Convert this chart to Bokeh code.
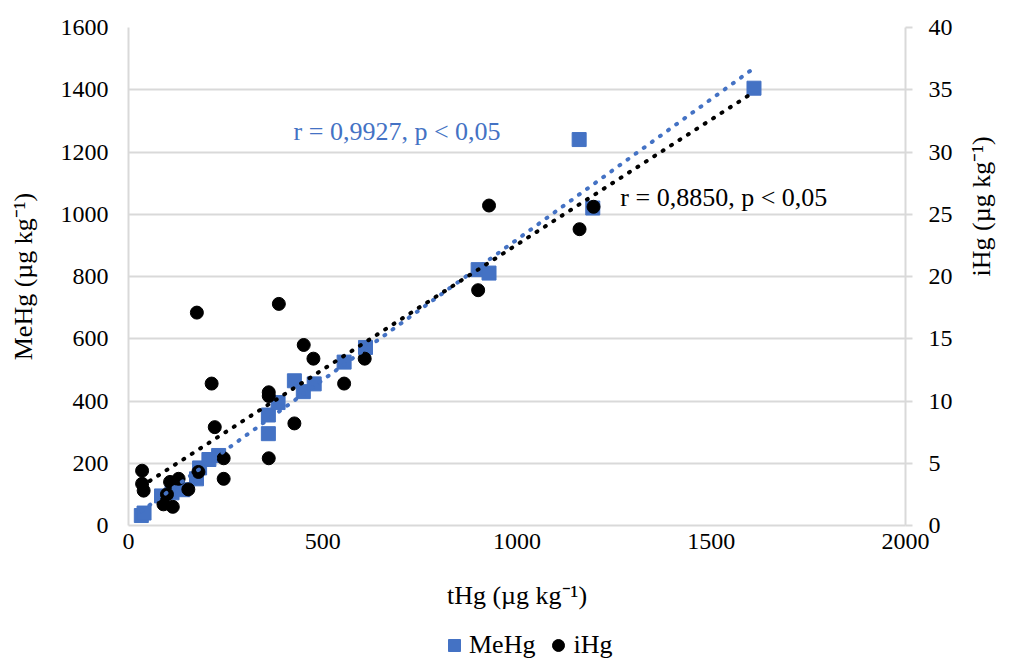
import math
from bokeh.plotting import figure
from bokeh.layouts import column
from bokeh.models import Range1d, LinearAxis, Legend, LegendItem, Label, FixedTicker
from bokeh.embed import file_html
from bokeh.resources import INLINE
import numpy as np

# MeHg series (left axis)
thg_me = [33, 40, 85, 112, 140, 175, 183, 207, 232, 360, 360, 385, 427, 450, 478, 555, 610, 900, 928, 1160, 1195, 1610]
mehg = [32, 40, 95, 105, 115, 150, 185, 212, 225, 295, 355, 395, 465, 430, 455, 525, 572, 822, 811, 1240, 1020, 1405]

# iHg series (right axis)
thg_i = [35, 35, 39, 90, 99, 107, 114, 129, 154, 180, 176, 214, 222, 245, 245, 361, 361, 361, 387, 427, 451, 476, 555, 608, 900, 928, 1161, 1197]
ihg = [4.4, 3.35, 2.8, 1.7, 2.5, 3.5, 1.5, 3.75, 2.9, 4.3, 17.1, 11.4, 7.9, 5.4, 3.75, 10.7, 10.4, 5.4, 17.8, 8.2, 14.5, 13.4, 11.4, 13.4, 18.9, 25.7, 23.8, 25.6]

x_ticks = [0, 500, 1000, 1500, 2000]
left_ticks = [0, 200, 400, 600, 800, 1000, 1200, 1400, 1600]
right_ticks = [0, 5, 10, 15, 20, 25, 30, 35, 40]

series_names = ["MeHg", "iHg"]
text_blue = "r = 0,9927, p < 0,05"
text_black = "r = 0,8850, p < 0,05"

FONT = "Liberation Serif"
BLUE = "#4472C4"
GRID = "#d9d9d9"

p = figure(width=1013, height=630, output_backend="svg", toolbar_location=None,
           x_range=Range1d(0, 2000), y_range=Range1d(0, 1600),
           min_border_left=128, min_border_right=103, min_border_top=27, min_border_bottom=105)
p.outline_line_color = None
p.background_fill_color = "white"
p.border_fill_color = "white"

p.extra_y_ranges = {"r": Range1d(0, 40)}

p.xgrid.grid_line_color = None
p.ygrid.grid_line_color = GRID
p.ygrid.grid_line_width = 2
p.ygrid.ticker = FixedTicker(ticks=left_ticks)

xa = p.xaxis[0]
xa.ticker = FixedTicker(ticks=x_ticks)
ya = p.yaxis[0]
ya.ticker = FixedTicker(ticks=left_ticks)

ra = LinearAxis(y_range_name="r", ticker=FixedTicker(ticks=right_ticks))
p.add_layout(ra, "right")

for ax in (xa, ya, ra):
    ax.axis_line_color = GRID
    ax.axis_line_width = 2
    ax.major_tick_line_color = GRID
    ax.major_tick_line_width = 2
    ax.major_tick_in = 0
    ax.minor_tick_line_color = None
    ax.major_label_text_font = FONT
    ax.major_label_text_font_size = "24px"
    ax.major_label_text_color = "black"
    ax.axis_label_text_font = FONT
    ax.axis_label_text_font_size = "26px"
    ax.axis_label_text_font_style = "normal"
    ax.axis_label_text_color = "black"

xa.major_tick_out = 0
xa.major_label_standoff = 8
xa.axis_label = "tHg (µg kg⁻¹)"
xa.axis_label_standoff = 29

ya.major_tick_out = 0
ya.major_label_standoff = 20
ya.axis_label = "MeHg (µg kg⁻¹)"
ya.axis_label_standoff = 20

ra.major_tick_out = 7
ra.major_label_standoff = 16
ra.axis_label = "iHg (µg kg⁻¹)"
ra.axis_label_standoff = 26
if "axis_label_orientation" in ra.properties():
    ra.axis_label_orientation = math.pi / 2

sq = p.scatter(thg_me, mehg, marker="square", size=14, fill_color=BLUE, line_color=BLUE)
ci = p.scatter(thg_i, ihg, marker="circle", size=13, fill_color="black", line_color="black",
               y_range_name="r")

allx = thg_me + thg_i
xr = np.array([min(allx), max(allx)], dtype=float)
mb, bb = np.polyfit(thg_me, mehg, 1)
mk, bk = np.polyfit(thg_i, ihg, 1)
p.line(xr, mb * xr + bb, line_color=BLUE, line_width=4, line_dash="1 9", line_cap="round")
p.line(xr, mk * xr + bk, line_color="black", line_width=4, line_dash="1 9", line_cap="round",
       y_range_name="r")

p.add_layout(Label(x=425, y=1267, text=text_blue, text_color=BLUE, text_font=FONT,
                   text_font_size="26px", text_baseline="middle"))
p.add_layout(Label(x=1266, y=1055, text=text_black, text_color="black", text_font=FONT,
                   text_font_size="26px", text_baseline="middle"))

# legend strip below the chart (legend-only proxy glyphs, no visible data)
lg = figure(width=1013, height=30, output_backend="svg", toolbar_location=None,
            x_range=Range1d(0, 1), y_range=Range1d(0, 1),
            min_border_left=0, min_border_right=0, min_border_top=0, min_border_bottom=0)
lg.axis.visible = False
lg.grid.grid_line_color = None
lg.outline_line_color = None
nan = [float("nan")]
lsq = lg.scatter(nan, nan, marker="square", size=14, fill_color=BLUE, line_color=BLUE)
lci = lg.scatter(nan, nan, marker="circle", size=13, fill_color="black", line_color="black")
legend = Legend(items=[LegendItem(label=series_names[0], renderers=[lsq]),
                       LegendItem(label=series_names[1], renderers=[lci])],
                orientation="horizontal", location=(311, 0),
                label_text_font=FONT, label_text_font_size="26px", label_text_color="black",
                glyph_width=30, glyph_height=30, label_standoff=0, spacing=8,
                padding=0, margin=0, border_line_color=None, background_fill_alpha=0)
lg.add_layout(legend, "center")

open("out.html", "w").write(file_html(column(p, lg, spacing=0), INLINE))
